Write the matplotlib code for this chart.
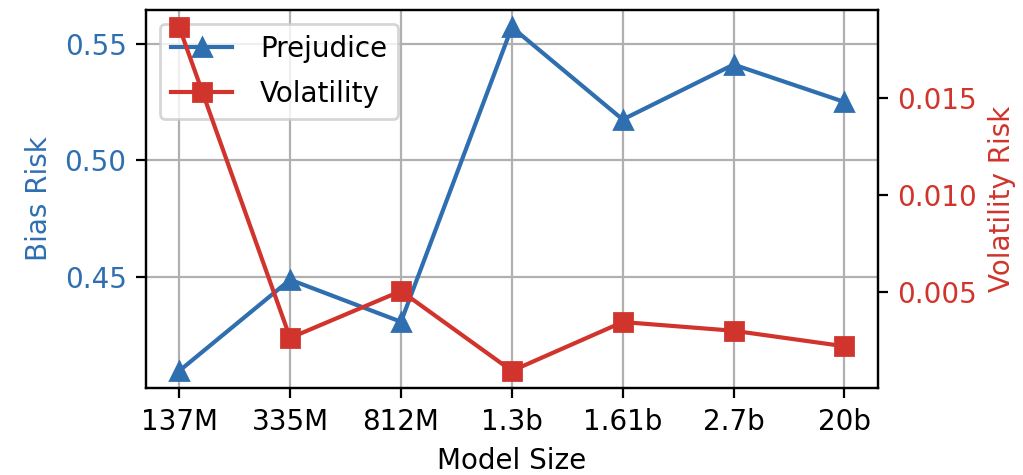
import matplotlib
matplotlib.use("Agg")
import matplotlib.pyplot as plt

model_sizes = ["137M", "335M", "812M", "1.3b", "1.61b", "2.7b", "20b"]
prejudice = [0.410, 0.449, 0.431, 0.557, 0.5175, 0.541, 0.525]
volatility = [0.01866, 0.00263, 0.00505, 0.00093, 0.00345, 0.0030, 0.0022]

BLUE = "#2f6fb0"
RED = "#d0342c"

fig, ax1 = plt.subplots(figsize=(5.115, 2.375), dpi=200)
fig.subplots_adjust(left=0.1427, right=0.858, top=0.979, bottom=0.183)

x = range(len(model_sizes))
l1, = ax1.plot(x, prejudice, marker="^", color=BLUE, markersize=6.5, label="Prejudice")
ax1.set_xticks(list(x))
ax1.set_xticklabels(model_sizes)
ax1.set_xlabel("Model Size")
ax1.set_ylabel("Bias Risk", color=BLUE)
ax1.tick_params(axis="y", labelcolor=BLUE)
ax1.set_yticks([0.45, 0.50, 0.55])
ax1.grid(True)

ax2 = ax1.twinx()
l2, = ax2.plot(x, volatility, marker="s", color=RED, markersize=6.5, label="Volatility")
ax2.set_ylabel("Volatility Risk", color=RED)
ax2.tick_params(axis="y", labelcolor=RED)
ax2.set_yticks([0.005, 0.010, 0.015])

for a in (ax1, ax2):
    for s in a.spines.values():
        s.set_color("black")

# legend on the lower axes so the red line is drawn over it
ax1.legend([l1, l2], ["Prejudice", "Volatility"], loc="upper left",
           handlelength=2.2, handletextpad=1.0, labelspacing=0.6)

fig.savefig("out.png", dpi=200)
